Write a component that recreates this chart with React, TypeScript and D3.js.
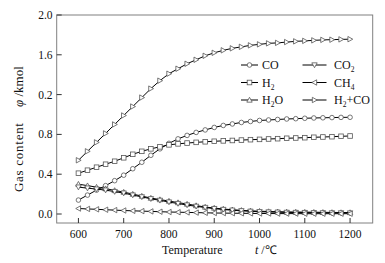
import React from "react";
import * as d3 from "d3";

const temps = d3.range(600, 1201, 20);

const coVals = [0.14, 0.19, 0.24, 0.285, 0.335, 0.39, 0.455, 0.52, 0.59, 0.655, 0.71, 0.755, 0.79, 0.82, 0.845, 0.87, 0.89, 0.905, 0.92, 0.93, 0.94, 0.945, 0.95, 0.955, 0.958, 0.962, 0.965, 0.967, 0.969, 0.971, 0.972];
const h2Vals = [0.41, 0.44, 0.47, 0.5, 0.53, 0.565, 0.6, 0.63, 0.655, 0.675, 0.695, 0.705, 0.713, 0.72, 0.726, 0.731, 0.735, 0.739, 0.743, 0.747, 0.75, 0.754, 0.757, 0.761, 0.764, 0.767, 0.771, 0.774, 0.777, 0.781, 0.784];
const h2oVals = [0.3, 0.285, 0.27, 0.255, 0.237, 0.22, 0.2, 0.18, 0.16, 0.145, 0.13, 0.115, 0.1, 0.085, 0.07, 0.06, 0.05, 0.043, 0.037, 0.032, 0.028, 0.025, 0.023, 0.021, 0.02, 0.019, 0.018, 0.017, 0.016, 0.015, 0.015];
const co2Vals = [0.27, 0.26, 0.25, 0.24, 0.225, 0.21, 0.19, 0.172, 0.153, 0.137, 0.12, 0.105, 0.09, 0.077, 0.065, 0.054, 0.045, 0.038, 0.032, 0.027, 0.023, 0.02, 0.018, 0.016, 0.015, 0.014, 0.013, 0.012, 0.011, 0.011, 0.01];
const ch4Vals = [0.055, 0.051, 0.047, 0.043, 0.039, 0.035, 0.032, 0.029, 0.026, 0.023, 0.02, 0.018, 0.016, 0.014, 0.012, 0.01, 0.009, 0.008, 0.007, 0.006, 0.005, 0.005, 0.004, 0.004, 0.004, 0.003, 0.003, 0.003, 0.003, 0.003, 0.003];
const h2coVals = [0.54, 0.63, 0.72, 0.81, 0.9, 0.99, 1.08, 1.17, 1.26, 1.34, 1.41, 1.46, 1.51, 1.55, 1.59, 1.62, 1.645, 1.665, 1.68, 1.695, 1.705, 1.715, 1.72, 1.728, 1.735, 1.74, 1.745, 1.75, 1.752, 1.755, 1.757];

const xTicks = [600, 700, 800, 900, 1000, 1100, 1200];
const yTicks = [0, 0.4, 0.8, 1.2, 1.6, 2.0];
const yTickLabels = ["0.0", "0.4", "0.8", "0.2", "1.6", "2.0"];

type Sym = "circle" | "square" | "up" | "down" | "left" | "right";

const series: { name: string; sub?: string; after?: string; vals: number[]; sym: Sym }[] = [
  { name: "CO", vals: coVals, sym: "circle" },
  { name: "H", sub: "2", vals: h2Vals, sym: "square" },
  { name: "H", sub: "2", after: "O", vals: h2oVals, sym: "up" },
  { name: "CO", sub: "2", vals: co2Vals, sym: "down" },
  { name: "CH", sub: "4", vals: ch4Vals, sym: "left" },
  { name: "H", sub: "2", after: "+CO", vals: h2coVals, sym: "right" },
];

function Marker({ x, y, sym }: { x: number; y: number; sym: Sym }) {
  const st = { fill: "#fff", stroke: "#555", strokeWidth: 0.8 };
  const r = 2.7;
  if (sym === "circle") return <circle cx={x} cy={y} r={2.3} {...st} />;
  if (sym === "square") return <rect x={x - 2.3} y={y - 2.3} width={4.6} height={4.6} {...st} />;
  let pts: [number, number][] = [];
  if (sym === "up") pts = [[0, -r], [r, r * 0.8], [-r, r * 0.8]];
  if (sym === "down") pts = [[0, r], [r, -r * 0.8], [-r, -r * 0.8]];
  if (sym === "left") pts = [[-r, 0], [r * 0.8, -r], [r * 0.8, r]];
  if (sym === "right") pts = [[r, 0], [-r * 0.8, -r], [-r * 0.8, r]];
  return <polygon points={pts.map(([a, b]) => `${x + a},${y + b}`).join(" ")} {...st} />;
}

export default function App() {
  const W = 385, H = 263;
  const left = 56.7, right = 372.7, top = 15, bottom = 223;
  const x = d3.scaleLinear().domain([552, 1250]).range([left, right]);
  const y = d3.scaleLinear().domain([0, 2]).range([214, 15]);
  const line = d3.line<number>().x((_, i) => x(temps[i])).y((v) => y(v));
  const font = "'Liberation Serif', 'Times New Roman', serif";

  const legendPos = [
    { lx: 241, len: 17, tx: 262, ly: 65 },
    { lx: 241, len: 17, tx: 262, ly: 82.5 },
    { lx: 241, len: 17, tx: 262, ly: 100 },
    { lx: 302.5, len: 24, tx: 334, ly: 65 },
    { lx: 302.5, len: 24, tx: 334, ly: 82.5 },
    { lx: 302.5, len: 24, tx: 334, ly: 100 },
  ];

  return (
    <svg width={W} height={H} style={{ position: "absolute", left: 0, top: 0, background: "#fff" }} fontFamily={font}>
      <rect x={left} y={top} width={right - left} height={bottom - top} fill="none" stroke="#808080" strokeWidth={1} />
      {xTicks.map((t) => (
        <g key={t}>
          <line x1={x(t)} x2={x(t)} y1={bottom} y2={bottom - 5} stroke="#333" strokeWidth={1} />
          <text x={x(t)} y={237.5} fontSize={11.5} textAnchor="middle" fill="#111">{t}</text>
        </g>
      ))}
      {yTicks.map((t, i) => (
        <g key={t}>
          <line x1={left} x2={left + 5} y1={y(t)} y2={y(t)} stroke="#333" strokeWidth={1} />
          <text x={52.5} y={y(t) + 4} fontSize={11.5} textAnchor="end" fill="#111">{yTickLabels[i]}</text>
        </g>
      ))}
      {series.map((s, si) => (
        <g key={si}>
          <path d={line(s.vals) || ""} fill="none" stroke="#000" strokeWidth={1} />
          {s.vals.map((v, i) => (
            <Marker key={i} x={x(temps[i])} y={y(v)} sym={s.sym} />
          ))}
        </g>
      ))}
      {series.map((s, si) => {
        const p = legendPos[si];
        return (
          <g key={"l" + si}>
            <line x1={p.lx} x2={p.lx + p.len} y1={p.ly} y2={p.ly} stroke="#000" strokeWidth={1} />
            <Marker x={p.lx + p.len / 2} y={p.ly} sym={s.sym} />
            <text x={p.tx} y={p.ly + 4} fontSize={12} fill="#111">
              {s.name}
              {s.sub && <tspan fontSize={7.5} dy={3}>{s.sub}</tspan>}
              {s.after && <tspan dy={-3}>{s.after}</tspan>}
            </text>
          </g>
        );
      })}
      <text x={162} y={254} fontSize={12} fill="#111">Temperature</text>
      <text x={255} y={254} fontSize={12} fill="#111"><tspan fontStyle="italic">t</tspan> /℃</text>
      <g transform="translate(22.5,0) rotate(-90)">
        <text x={-192} y={0} fontSize={13} textLength={69} fill="#111">Gas content</text>
        <text x={-107} y={0} fontSize={13} fill="#111"><tspan fontStyle="italic">φ</tspan> /kmol</text>
      </g>
    </svg>
  );
}
